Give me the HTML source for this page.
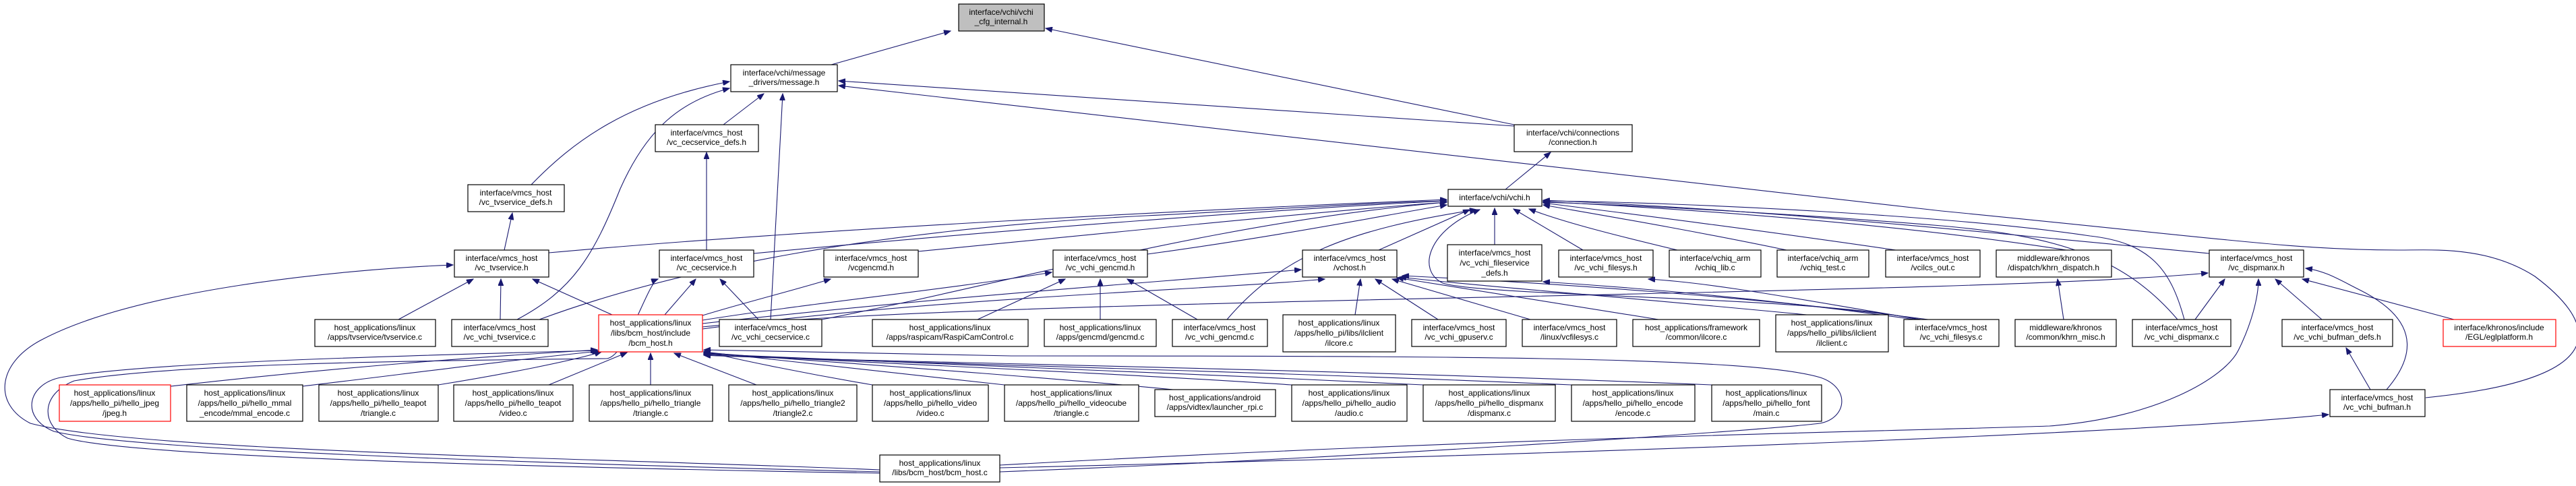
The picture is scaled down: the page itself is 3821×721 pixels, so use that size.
<!DOCTYPE html>
<html><head><meta charset="utf-8"><style>
html,body{margin:0;padding:0;background:#fff;}
svg{display:block;}
text{font-family:"Liberation Sans",sans-serif;font-size:12px;fill:#000;text-anchor:middle;}
.e{fill:none;stroke:#191970;stroke-width:1.1;marker-end:url(#a);}
rect{stroke-width:1.2;}
.n{fill:#fff;stroke:#000;}
.r{fill:#fff;stroke:#ff0000;}
.g{fill:#bfbfbf;stroke:#000;}
</style></head><body>
<svg width="3821" height="721" viewBox="0 0 3821 721" xmlns="http://www.w3.org/2000/svg">
<defs><marker id="a" markerUnits="userSpaceOnUse" markerWidth="11" markerHeight="8" refX="10" refY="4" orient="auto"><path d="M0,0 L10,4 L0,8 z" fill="#191970" stroke="#191970"/></marker></defs>

<!-- edges -->
<path class="e" d="M1233,96 L1410,46"/>
<path class="e" d="M2246,185 L1551,42"/>
<path class="e" d="M2246,187 L1244,120"/>
<path class="e" d="M2233,281 L2300,226"/>
<path class="e" d="M3598,590 C3900,560 3840,470 3760,410 C3690,365 3610,371 3560,371 C3400,371 3300,354 2880,313 L1244,127"/>
<path class="e" d="M788,274 C850,210 930,150 1082,121"/>
<path class="e" d="M767,474 C850,430 880,380 920,280 C960,190 1010,150 1082,131"/>
<path class="e" d="M1073,185 L1133,139"/>
<path class="e" d="M1143,474 L1161,139"/>
<path class="e" d="M748,371 L760,316"/>
<path class="e" d="M591,474 L702,414"/>
<path class="e" d="M742,474 L743,414"/>
<path class="e" d="M908,467 L790,414"/>
<path class="e" d="M1305,697 C900,680 200,670 45,628 C-10,600 -5,540 60,505 C200,430 500,400 672,393"/>
<path class="e" d="M1305,700 C900,690 200,670 80,640 C30,620 40,570 90,560 C200,540 500,530 886,520"/>
<path class="e" d="M1305,702 C900,695 200,680 100,650 C60,630 60,585 110,565 C250,540 600,535 900,532 C930,528 960,420 976,414"/>
<path class="e" d="M1048,371 L1048,226"/>
<path class="e" d="M986,467 L1032,414"/>
<path class="e" d="M1125,474 L1068,414"/>
<path class="e" d="M1042,468 C1100,450 1180,430 1232,414"/>
<path class="e" d="M1450,474 L1580,414"/>
<path class="e" d="M1632,474 L1632,414"/>
<path class="e" d="M1776,474 L1672,414"/>
<path class="e" d="M1042,475 C1200,450 1400,430 1560,404"/>
<path class="e" d="M2010,467 L2018,414"/>
<path class="e" d="M2133,474 L2040,414"/>
<path class="e" d="M2270,474 L2065,414"/>
<path class="e" d="M2460,474 L2072,412"/>
<path class="e" d="M2680,467 C2400,440 2200,425 2076,411"/>
<path class="e" d="M2860,474 C2600,440 2300,420 2080,409"/>
<path class="e" d="M1042,480 C1400,440 1700,420 1930,400"/>
<path class="e" d="M1042,488 C1400,440 1800,430 1965,414"/>
<path class="e" d="M2840,474 C2600,440 2400,425 2289,418"/>
<path class="e" d="M2850,474 C2700,450 2550,420 2445,414"/>
<path class="e" d="M814,375 C1200,340 1800,310 2146,296"/>
<path class="e" d="M1118,376 C1500,340 1900,310 2146,298"/>
<path class="e" d="M1362,373 C1700,340 2000,310 2146,300"/>
<path class="e" d="M1702,377 C1900,350 2050,320 2146,304"/>
<path class="e" d="M2045,371 L2180,311"/>
<path class="e" d="M2217,363 L2217,309"/>
<path class="e" d="M2348,371 L2245,310"/>
<path class="e" d="M2488,371 C2400,350 2320,330 2268,310"/>
<path class="e" d="M2650,371 C2500,340 2380,320 2289,304"/>
<path class="e" d="M2812,371 C2600,340 2400,315 2289,301"/>
<path class="e" d="M3065,371 C2800,330 2500,310 2289,299"/>
<path class="e" d="M3277,376 C2900,340 2600,310 2289,297"/>
<path class="e" d="M3230,474 C3150,380 3050,350 2880,335 C2700,320 2450,305 2289,300"/>
<path class="e" d="M3240,474 C3220,400 3190,360 3100,350 C2900,320 2500,300 2289,298"/>
<path class="e" d="M800,474 C1000,400 1300,340 1700,320 C1900,310 2050,300 2146,298"/>
<path class="e" d="M1219,474 C1500,420 1800,330 2146,300"/>
<path class="e" d="M1820,474 C1900,380 2000,340 2190,311"/>
<path class="e" d="M2844,474 C2700,440 2200,440 2140,420 C2100,400 2120,340 2195,311"/>
<path class="e" d="M3061,474 L3052,414"/>
<path class="e" d="M3256,474 L3300,414"/>
<path class="e" d="M3444,474 L3375,414"/>
<path class="e" d="M3640,474 L3415,414"/>
<path class="e" d="M3540,578 C3590,520 3580,470 3500,430 C3470,415 3450,402 3420,398"/>
<path class="e" d="M1483,690 C2200,650 2800,640 3040,632 C3200,620 3300,560 3320,520 C3340,480 3350,440 3350,414"/>
<path class="e" d="M3516,578 L3480,516"/>
<path class="e" d="M1483,694 C2500,670 3200,640 3454,615"/>
<path class="e" d="M1042,485 C1500,440 2900,440 3275,405"/>
<path class="e" d="M253,573 C500,545 700,530 886,519"/>
<path class="e" d="M449,573 C600,555 750,535 888,521"/>
<path class="e" d="M650,571 C750,555 850,535 892,522"/>
<path class="e" d="M814,571 L930,523"/>
<path class="e" d="M965,571 L965,524"/>
<path class="e" d="M1122,571 L1000,524"/>
<path class="e" d="M1294,571 C1200,555 1100,535 1044,521"/>
<path class="e" d="M1490,571 C1300,550 1150,535 1044,522"/>
<path class="e" d="M1740,578 C1500,555 1200,535 1044,523"/>
<path class="e" d="M1916,571 C1600,550 1200,535 1044,524"/>
<path class="e" d="M2111,571 C1700,550 1200,535 1044,525"/>
<path class="e" d="M2331,571 C1800,548 1200,535 1044,526"/>
<path class="e" d="M2539,571 C1900,545 1200,535 1044,527"/>
<path class="e" d="M1483,700 C2000,680 2600,640 2700,628 C2740,620 2745,575 2700,560 C2600,530 2200,528 1500,528 L1044,519"/>

<!-- nodes -->
<rect class="g" x="1422" y="6" width="127" height="40"/><text x="1485" y="22">interface/vchi/vchi</text><text x="1485" y="36">_cfg_internal.h</text>
<rect class="n" x="1084" y="96" width="158" height="40"/><text x="1163" y="112">interface/vchi/message</text><text x="1163" y="126">_drivers/message.h</text>
<rect class="n" x="972" y="185" width="153" height="40"/><text x="1048" y="201">interface/vmcs_host</text><text x="1048" y="215">/vc_cecservice_defs.h</text>
<rect class="n" x="694" y="274" width="143" height="40"/><text x="765" y="290">interface/vmcs_host</text><text x="765" y="304">/vc_tvservice_defs.h</text>
<rect class="n" x="2246" y="185" width="175" height="40"/><text x="2333" y="201">interface/vchi/connections</text><text x="2333" y="215">/connection.h</text>
<rect class="n" x="2148" y="281" width="139" height="25"/><text x="2217" y="297">interface/vchi/vchi.h</text>

<rect class="n" x="674" y="371" width="140" height="40"/><text x="744" y="387">interface/vmcs_host</text><text x="744" y="401">/vc_tvservice.h</text>
<rect class="n" x="978" y="371" width="140" height="40"/><text x="1048" y="387">interface/vmcs_host</text><text x="1048" y="401">/vc_cecservice.h</text>
<rect class="n" x="1222" y="371" width="140" height="40"/><text x="1292" y="387">interface/vmcs_host</text><text x="1292" y="401">/vcgencmd.h</text>
<rect class="n" x="1562" y="371" width="140" height="40"/><text x="1632" y="387">interface/vmcs_host</text><text x="1632" y="401">/vc_vchi_gencmd.h</text>
<rect class="n" x="1932" y="371" width="140" height="40"/><text x="2002" y="387">interface/vmcs_host</text><text x="2002" y="401">/vchost.h</text>
<rect class="n" x="2147" y="363" width="140" height="54"/><text x="2217" y="379">interface/vmcs_host</text><text x="2217" y="394">/vc_vchi_fileservice</text><text x="2217" y="409">_defs.h</text>
<rect class="n" x="2312" y="371" width="140" height="40"/><text x="2382" y="387">interface/vmcs_host</text><text x="2382" y="401">/vc_vchi_filesys.h</text>
<rect class="n" x="2476" y="371" width="136" height="40"/><text x="2544" y="387">interface/vchiq_arm</text><text x="2544" y="401">/vchiq_lib.c</text>
<rect class="n" x="2636" y="371" width="136" height="40"/><text x="2704" y="387">interface/vchiq_arm</text><text x="2704" y="401">/vchiq_test.c</text>
<rect class="n" x="2797" y="371" width="140" height="40"/><text x="2867" y="387">interface/vmcs_host</text><text x="2867" y="401">/vcilcs_out.c</text>
<rect class="n" x="2961" y="371" width="171" height="40"/><text x="3046" y="387">middleware/khronos</text><text x="3046" y="401">/dispatch/khrn_dispatch.h</text>
<rect class="n" x="3277" y="371" width="140" height="40"/><text x="3347" y="387">interface/vmcs_host</text><text x="3347" y="401">/vc_dispmanx.h</text>

<rect class="n" x="467" y="474" width="179" height="40"/><text x="556" y="490">host_applications/linux</text><text x="556" y="504">/apps/tvservice/tvservice.c</text>
<rect class="n" x="670" y="474" width="143" height="40"/><text x="741" y="490">interface/vmcs_host</text><text x="741" y="504">/vc_vchi_tvservice.c</text>
<rect class="r" x="888" y="467" width="154" height="55"/><text x="965" y="483">host_applications/linux</text><text x="965" y="498">/libs/bcm_host/include</text><text x="965" y="513">/bcm_host.h</text>
<rect class="n" x="1067" y="474" width="152" height="40"/><text x="1143" y="490">interface/vmcs_host</text><text x="1143" y="504">/vc_vchi_cecservice.c</text>
<rect class="n" x="1294" y="474" width="231" height="40"/><text x="1409" y="490">host_applications/linux</text><text x="1409" y="504">/apps/raspicam/RaspiCamControl.c</text>
<rect class="n" x="1549" y="474" width="166" height="40"/><text x="1632" y="490">host_applications/linux</text><text x="1632" y="504">/apps/gencmd/gencmd.c</text>
<rect class="n" x="1739" y="474" width="141" height="40"/><text x="1809" y="490">interface/vmcs_host</text><text x="1809" y="504">/vc_vchi_gencmd.c</text>
<rect class="n" x="1903" y="467" width="167" height="55"/><text x="1986" y="483">host_applications/linux</text><text x="1986" y="498">/apps/hello_pi/libs/ilclient</text><text x="1986" y="513">/ilcore.c</text>
<rect class="n" x="2094" y="474" width="140" height="40"/><text x="2164" y="490">interface/vmcs_host</text><text x="2164" y="504">/vc_vchi_gpuserv.c</text>
<rect class="n" x="2258" y="474" width="140" height="40"/><text x="2328" y="490">interface/vmcs_host</text><text x="2328" y="504">/linux/vcfilesys.c</text>
<rect class="n" x="2422" y="474" width="188" height="40"/><text x="2516" y="490">host_applications/framework</text><text x="2516" y="504">/common/ilcore.c</text>
<rect class="n" x="2634" y="467" width="167" height="55"/><text x="2717" y="483">host_applications/linux</text><text x="2717" y="498">/apps/hello_pi/libs/ilclient</text><text x="2717" y="513">/ilclient.c</text>
<rect class="n" x="2824" y="474" width="141" height="40"/><text x="2894" y="490">interface/vmcs_host</text><text x="2894" y="504">/vc_vchi_filesys.c</text>
<rect class="n" x="2989" y="474" width="150" height="40"/><text x="3064" y="490">middleware/khronos</text><text x="3064" y="504">/common/khrn_misc.h</text>
<rect class="n" x="3163" y="474" width="146" height="40"/><text x="3236" y="490">interface/vmcs_host</text><text x="3236" y="504">/vc_vchi_dispmanx.c</text>
<rect class="n" x="3385" y="474" width="164" height="40"/><text x="3467" y="490">interface/vmcs_host</text><text x="3467" y="504">/vc_vchi_bufman_defs.h</text>
<rect class="r" x="3624" y="474" width="167" height="40"/><text x="3707" y="490">interface/khronos/include</text><text x="3707" y="504">/EGL/eglplatform.h</text>

<rect class="r" x="88" y="571" width="165" height="54"/><text x="170" y="587">host_applications/linux</text><text x="170" y="602">/apps/hello_pi/hello_jpeg</text><text x="170" y="617">/jpeg.h</text>
<rect class="n" x="277" y="571" width="172" height="54"/><text x="363" y="587">host_applications/linux</text><text x="363" y="602">/apps/hello_pi/hello_mmal</text><text x="363" y="617">_encode/mmal_encode.c</text>
<rect class="n" x="473" y="571" width="177" height="54"/><text x="561" y="587">host_applications/linux</text><text x="561" y="602">/apps/hello_pi/hello_teapot</text><text x="561" y="617">/triangle.c</text>
<rect class="n" x="673" y="571" width="177" height="54"/><text x="761" y="587">host_applications/linux</text><text x="761" y="602">/apps/hello_pi/hello_teapot</text><text x="761" y="617">/video.c</text>
<rect class="n" x="874" y="571" width="183" height="54"/><text x="965" y="587">host_applications/linux</text><text x="965" y="602">/apps/hello_pi/hello_triangle</text><text x="965" y="617">/triangle.c</text>
<rect class="n" x="1081" y="571" width="190" height="54"/><text x="1176" y="587">host_applications/linux</text><text x="1176" y="602">/apps/hello_pi/hello_triangle2</text><text x="1176" y="617">/triangle2.c</text>
<rect class="n" x="1294" y="571" width="172" height="54"/><text x="1380" y="587">host_applications/linux</text><text x="1380" y="602">/apps/hello_pi/hello_video</text><text x="1380" y="617">/video.c</text>
<rect class="n" x="1490" y="571" width="199" height="54"/><text x="1589" y="587">host_applications/linux</text><text x="1589" y="602">/apps/hello_pi/hello_videocube</text><text x="1589" y="617">/triangle.c</text>
<rect class="n" x="1713" y="578" width="179" height="40"/><text x="1802" y="594">host_applications/android</text><text x="1802" y="608">/apps/vidtex/launcher_rpi.c</text>
<rect class="n" x="1916" y="571" width="171" height="54"/><text x="2001" y="587">host_applications/linux</text><text x="2001" y="602">/apps/hello_pi/hello_audio</text><text x="2001" y="617">/audio.c</text>
<rect class="n" x="2111" y="571" width="196" height="54"/><text x="2209" y="587">host_applications/linux</text><text x="2209" y="602">/apps/hello_pi/hello_dispmanx</text><text x="2209" y="617">/dispmanx.c</text>
<rect class="n" x="2331" y="571" width="183" height="54"/><text x="2422" y="587">host_applications/linux</text><text x="2422" y="602">/apps/hello_pi/hello_encode</text><text x="2422" y="617">/encode.c</text>
<rect class="n" x="2539" y="571" width="163" height="54"/><text x="2620" y="587">host_applications/linux</text><text x="2620" y="602">/apps/hello_pi/hello_font</text><text x="2620" y="617">/main.c</text>

<rect class="n" x="1305" y="675" width="178" height="40"/><text x="1394" y="691">host_applications/linux</text><text x="1394" y="705">/libs/bcm_host/bcm_host.c</text>
<rect class="n" x="3456" y="578" width="141" height="40"/><text x="3526" y="594">interface/vmcs_host</text><text x="3526" y="608">/vc_vchi_bufman.h</text>
</svg>
</body></html>
